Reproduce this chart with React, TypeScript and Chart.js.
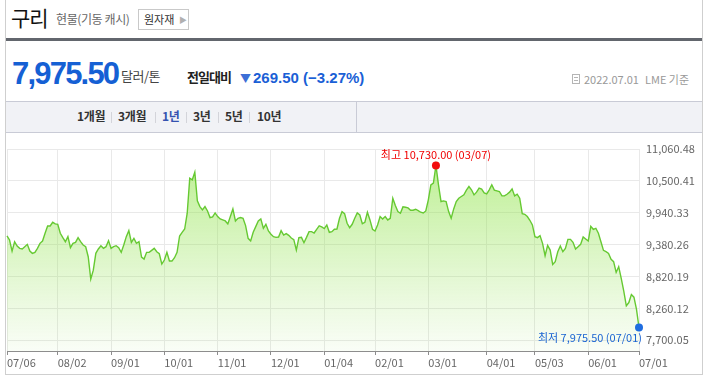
import React, { useEffect, useRef } from 'react';
import { Chart, registerables } from 'chart.js';

Chart.register(...registerables);

const FONT_KR = '"Noto Sans CJK KR", "Noto Sans", sans-serif';
const FONT_NUM = '"Liberation Sans", Arial, sans-serif';

// Daily LME copper cash price (USD/t), 2021-07-06 .. 2022-07-01
const prices: number[] = [
  9531, 9463, 9275, 9434, 9361, 9321, 9310, 9349, 9389, 9275,
  9236, 9253, 9321, 9406, 9446, 9577, 9702, 9702, 9764, 9736,
  9730, 9577, 9503, 9434, 9520, 9332, 9406, 9423, 9503, 9434,
  9378, 9349, 9179, 8798, 8951, 9236, 9310, 9366, 9321, 9349,
  9452, 9321, 9349, 9366, 9332, 9253, 9378, 9520, 9622, 9423,
  9491, 9406, 9434, 9173, 9139, 9253, 9253, 9287, 9321, 9264,
  9230, 9054, 9122, 9253, 9105, 9105, 9162, 9253, 9531, 9594,
  9650, 9918, 10514, 10486, 10617, 10128, 10031, 9974, 10031, 9957,
  9844, 9855, 9923, 9861, 9821, 9804, 9787, 9736, 9861, 9991,
  9787, 9832, 9844, 9832, 9707, 9491, 9446, 9594, 9690, 9787,
  9821, 9662, 9730, 9616, 9560, 9520, 9508, 9514, 9622, 9548,
  9571, 9543, 9497, 9469, 9292, 9503, 9508, 9417, 9508, 9605,
  9605, 9582, 9645, 9702, 9685, 9656, 9719, 9594, 9605, 9645,
  9650, 9832, 9946, 9912, 9747, 9673, 9730, 9832, 9923, 9889,
  9741, 9764, 9935, 9804, 9645, 9616, 9719, 9861, 9821, 9861,
  9804, 9832, 10173, 10048, 9946, 9918, 10026, 10020, 10008, 9969,
  9969, 9986, 9963, 9935, 9923, 9957, 10145, 10401, 10429, 10730,
  10401, 10117, 10128, 10117, 9946, 9832, 9991, 10117, 10173, 10202,
  10230, 10310, 10372, 10316, 10230, 10276, 10344, 10327, 10264, 10247,
  10316, 10401, 10310, 10298, 10287, 10213, 10213, 10241, 10276, 10332,
  10213, 10241, 10173, 9912, 9900, 9861, 9798, 9719, 9520, 9503,
  9537, 9406, 9196, 9372, 9292, 9048, 9094, 9264, 9361, 9264,
  9321, 9474, 9474, 9423, 9310, 9349, 9389, 9514, 9480, 9446,
  9696, 9645, 9662, 9577, 9434, 9287, 9264, 9236, 9134, 9094,
  8912, 9009, 8810, 8594, 8344, 8400, 8537, 8491, 8287, 7975.5,
];

const xTickIndex = [0, 20, 41, 62, 83, 104, 125, 145, 166, 189, 208, 229, 249];
const xTickLabels = ['07/06', '08/02', '09/01', '10/01', '11/01', '12/01', '01/04', '02/01', '03/01', '04/01', '05/03', '06/01', '07/01'];
const yTickValues = [7700.05, 8260.12, 8820.19, 9380.26, 9940.33, 10500.41, 11060.48];
const highDate = '03/07';
const lowDate = '07/01';
const tabLabels = ['1개월', '3개월', '1년', '3년', '5년', '10년'];
const activeTab = '1년';

const fmt = (v: number) =>
  v.toLocaleString('en-US', { minimumFractionDigits: 2, maximumFractionDigits: 2 });

export default function App() {
  const canvasRef = useRef<HTMLCanvasElement | null>(null);

  useEffect(() => {
    const canvas = canvasRef.current;
    if (!canvas) return;
    Chart.defaults.font.family = FONT_KR;
    const hiIdx = prices.indexOf(Math.max(...prices));
    const loIdx = prices.indexOf(Math.min(...prices));

    const hiLoPlugin = {
      id: 'hiLo',
      afterDatasetsDraw(chart: any) {
        const meta = chart.getDatasetMeta(0);
        const hp = meta.data[hiIdx];
        const lp = meta.data[loIdx];
        const c = chart.ctx;
        c.save();
        c.font = `11px ${FONT_KR}`;
        c.textBaseline = 'middle';
        c.fillStyle = '#f00000';
        c.textAlign = 'center';
        c.fillText(`최고 ${fmt(prices[hiIdx])} (${highDate})`, hp.x, hp.y - 11);
        c.fillStyle = '#1a64d2';
        c.textAlign = 'right';
        c.fillText(`최저 ${fmt(prices[loIdx])} (${lowDate})`, lp.x + 3, lp.y + 10);
        c.restore();
      },
    };

    const chart = new Chart(canvas, {
      type: 'line',
      data: {
        datasets: [
          {
            data: prices.map((p, i) => ({ x: i, y: p })),
            yAxisID: 'yData',
            borderColor: '#66c932',
            borderWidth: 1.4,
            tension: 0,
            fill: 'start',
            clip: false as any,
            backgroundColor: (ctx: any) => {
              const { chart: ch } = ctx;
              const area = ch.chartArea;
              if (!area) return 'rgba(140,225,70,0.3)';
              const g = ch.ctx.createLinearGradient(0, area.top, 0, area.bottom);
              g.addColorStop(0, 'rgba(140,228,65,0.6)');
              g.addColorStop(1, 'rgba(150,225,90,0.05)');
              return g;
            },
            pointRadius: (ctx: any) => (ctx.dataIndex === hiIdx || ctx.dataIndex === loIdx ? 4 : 0),
            pointBackgroundColor: (ctx: any) => (ctx.dataIndex === hiIdx ? '#f20d0d' : '#1f6de0'),
            pointBorderWidth: 0,
            pointHoverRadius: 0,
          } as any,
        ],
      },
      options: {
        responsive: false,
        animation: false,
        events: [],
        layout: { padding: { left: 1, top: 15, right: 0, bottom: 0 }, autoPadding: false } as any,
        plugins: { legend: { display: false }, tooltip: { enabled: false } },
        scales: {
          x: {
            type: 'linear',
            min: 0,
            max: prices.length - 1,
            afterBuildTicks: (s: any) => {
              s.ticks = xTickIndex.map((v) => ({ value: v }));
            },
            afterFit: (s: any) => {
              s.height = 22;
            },
            ticks: {
              autoSkip: false,
              maxRotation: 0,
              minRotation: 0,
              align: 'start',
              padding: 1,
              color: '#666',
              font: { size: 11, family: FONT_KR },
              callback: (_v: any, i: number) => xTickLabels[i],
            },
            grid: { color: '#e9e9e9', tickColor: '#8d8d8d', tickLength: 4, drawTicks: true },
            border: { color: '#8d8d8d', width: 1 },
          } as any,
          y: {
            type: 'linear',
            position: 'right',
            min: 7511.2,
            max: 11060.48,
            afterBuildTicks: (s: any) => {
              s.ticks = yTickValues.map((v) => ({ value: v }));
            },
            afterFit: (s: any) => {
              s.width = 62;
            },
            ticks: {
              padding: 7,
              color: '#666',
              font: { size: 11, family: FONT_KR },
              callback: (v: any) => fmt(Number(v)),
            },
            grid: { color: '#e9e9e9', drawTicks: false },
            border: { display: false },
          } as any,
          yData: {
            type: 'linear',
            display: false,
            min: 7576.6,
            max: 11009.5,
          } as any,
        },
      },
      plugins: [hiLoPlugin],
    });
    return () => chart.destroy();
  }, []);

  const abs = (s: React.CSSProperties): React.CSSProperties => ({ position: 'absolute', whiteSpace: 'nowrap', ...s });
  const tabLeft = [77, 118, 162, 193, 225, 257];
  const sepLeft = [111, 155, 186, 218, 249];

  return (
    <div style={{ position: 'absolute', left: 0, top: 0, width: 707, height: 379, background: '#fff', overflow: 'hidden', fontFamily: FONT_KR }}>
      {/* outer frame */}
      <div style={abs({ left: 5, top: -1, width: 698, height: 376, border: '1px solid #cfcfcf', boxSizing: 'border-box' })} />

      {/* title row */}
      <div style={abs({ left: 11, top: 3, fontSize: 21, lineHeight: '28px', color: '#111', letterSpacing: -1 })}>구리</div>
      <div style={abs({ left: 56, top: 11, fontSize: 12, lineHeight: '16px', letterSpacing: -0.4, color: '#666' })}>현물(기동 캐시)</div>
      <div style={abs({ left: 138, top: 9, width: 51, height: 21, border: '1px solid #c9c9c9', boxSizing: 'border-box', background: '#fff' })} />
      <div style={abs({ left: 144, top: 11, fontSize: 11, lineHeight: '16px', color: '#333' })}>원자재</div>
      <div style={abs({ left: 179, top: 12, fontSize: 8, lineHeight: '16px', color: '#b0b0b0' })}>▶</div>
      <div style={abs({ left: 6, top: 38, width: 696, height: 3, background: '#62666d' })} />

      {/* price row */}
      <div style={abs({ left: 12, top: 58, fontFamily: FONT_NUM, fontWeight: 700, fontSize: 31, lineHeight: '31px', letterSpacing: -1.8, color: '#1560d4' })}>7,975.50</div>
      <div style={abs({ left: 121, top: 68, fontSize: 13, lineHeight: '16px', letterSpacing: -0.5, color: '#444' })}>달러/톤</div>
      <div style={abs({ left: 187, top: 69, fontSize: 13, fontWeight: 700, lineHeight: '16px', letterSpacing: -1, color: '#222' })}>전일대비</div>
      <div style={abs({ left: 240, top: 70, fontSize: 11, lineHeight: '16px', color: '#3d6fd6' })}>▼</div>
      <div style={abs({ left: 253, top: 69, fontFamily: FONT_NUM, fontWeight: 700, fontSize: 15, lineHeight: '18px', color: '#1a5fd6' })}>269.50 (−3.27%)</div>
      <div style={abs({ left: 572, top: 74, width: 8, height: 10, border: '1px solid #b5b5b5', boxSizing: 'border-box' })} />
      <div style={abs({ left: 574, top: 77, width: 4, height: 1, background: '#b5b5b5' })} />
      <div style={abs({ left: 574, top: 80, width: 4, height: 1, background: '#b5b5b5' })} />
      <div style={abs({ left: 584, top: 72, fontSize: 11, lineHeight: '14px', color: '#999' })}>2022.07.01</div>
      <div style={abs({ left: 645, top: 72, fontSize: 11, lineHeight: '14px', color: '#999' })}>LME 기준</div>

      {/* tab row */}
      <div style={abs({ left: 6, top: 101, width: 696, height: 32, background: '#f1f2f6', borderTop: '1px solid #c9cbd6', borderBottom: '1px solid #c9cbd6', boxSizing: 'border-box' })} />
      <div style={abs({ left: 356, top: 101, width: 1, height: 32, background: '#c9cbd6' })} />
      {tabLabels.map((t, i) => (
        <div key={t} style={abs({ left: tabLeft[i], top: 108, fontSize: 12, fontWeight: 700, lineHeight: '16px', letterSpacing: -0.3, color: t === activeTab ? '#3552b0' : '#333' })}>{t}</div>
      ))}
      {sepLeft.map((l) => (
        <div key={l} style={abs({ left: l, top: 112, width: 1, height: 11, background: '#d3d4da' })} />
      ))}

      {/* chart */}
      <div style={abs({ left: 6, top: 134, width: 695, height: 239 })}>
        <canvas ref={canvasRef} width={695} height={239} style={{ display: 'block', width: 695, height: 239 }} />
      </div>
    </div>
  );
}
